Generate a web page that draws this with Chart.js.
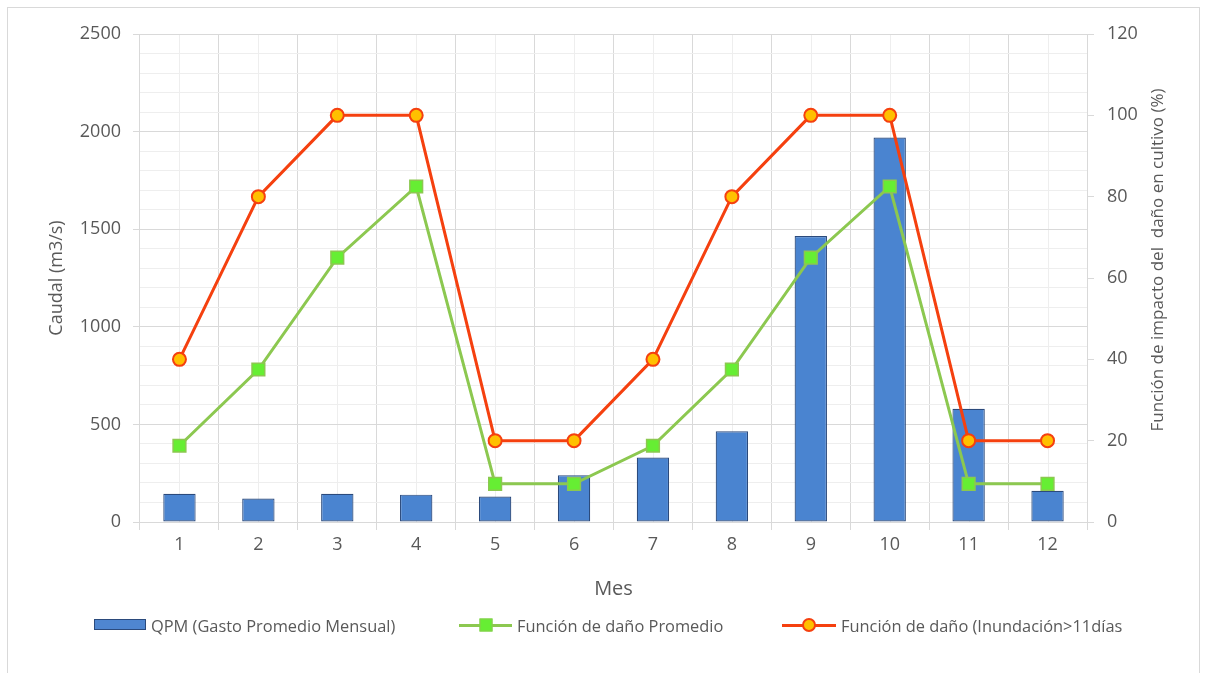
<!DOCTYPE html>
<html>
<head>
<meta charset="utf-8">
<script src="https://cdn.jsdelivr.net/npm/chart.js@4.4.0/dist/chart.umd.min.js"></script>
<style>
html,body{margin:0;padding:0;background:#fff;}
#wrap{position:relative;width:1208px;height:673px;overflow:hidden;background:#fff;}
#frame{position:absolute;left:7px;top:7px;width:1193px;height:700px;border:1.5px solid #d9d9d9;box-sizing:border-box;}
#c{position:absolute;left:0;top:0;}
.item{position:absolute;top:614px;height:22px;display:flex;align-items:center;white-space:nowrap;font-family:'Open Sans',sans-serif;font-size:16.4px;color:#595959;}
.sw{position:relative;height:22px;margin-right:5px;}
.barsw{position:absolute;left:0;right:0;top:5px;height:11px;box-sizing:border-box;border:1px solid #2b4a7c;background:#4f86d0;}
.linesw{position:absolute;left:0;right:0;top:9.5px;height:3px;}
.mk{position:absolute;left:50%;top:50%;transform:translate(-50%,-50%);box-sizing:border-box;}
</style>
</head>
<body>
<div id="wrap">
  <div id="frame"></div>
  <canvas id="c" width="1208" height="673"></canvas>
  <div id="legend"></div>
</div>
<script>
// ---- data ----
const months = ['1','2','3','4','5','6','7','8','9','10','11','12'];
const qpm = [145, 120, 145, 140, 130, 240, 330, 465, 1465, 1970, 580, 160];
const danoPromedio = [18.75, 37.5, 65, 82.5, 9.4, 9.4, 18.75, 37.5, 65, 82.5, 9.4, 9.4];
const danoInundacion = [40, 80, 100, 100, 20, 20, 40, 80, 100, 100, 20, 20];
const seriesNames = ['QPM (Gasto Promedio Mensual)', 'Función de daño Promedio', 'Función de daño (Inundación>11días'];
const leftAxisRange = [0, 2500];
const rightAxisRange = [0, 120];
const leftTitle = 'Caudal (m3/s)';
const rightTitle = 'Función de impacto del  daño en cultivo (%)';
const xTitle = 'Mes';

// ---- styles ----
const TXT = '#595959';
const GRID = '#d9d9d9';
const MINOR = '#eeeeee';
Chart.defaults.font.family = "'Open Sans', sans-serif";
Chart.defaults.color = TXT;

const minorX = {
  id: 'minorX',
  beforeDraw(chart) {
    const {ctx, chartArea, scales} = chart;
    ctx.save();
    ctx.strokeStyle = MINOR;
    ctx.lineWidth = 1;
    months.forEach((m, i) => {
      const x = Math.round(scales.x.getPixelForValue(i)) + 0.5;
      ctx.beginPath();
      ctx.moveTo(x, chartArea.top);
      ctx.lineTo(x, chartArea.bottom);
      ctx.stroke();
    });
    ctx.restore();
  },
  afterDraw(chart) {
    const {ctx, chartArea} = chart;
    ctx.save();
    ctx.fillStyle = TXT;
    ctx.font = "17px 'Open Sans', sans-serif";
    ctx.textAlign = 'center';
    ctx.textBaseline = 'middle';
    ctx.translate(chartArea.right + 71, (chartArea.top + chartArea.bottom) / 2 - 18);
    ctx.rotate(-Math.PI / 2);
    ctx.fillText(rightTitle, 0, 0);
    ctx.restore();
  }
};

const chart = new Chart(document.getElementById('c'), {
  type: 'bar',
  data: {
    labels: months,
    datasets: [
      {
        type: 'line', label: seriesNames[2], data: danoInundacion, yAxisID: 'y1', order: 1,
        borderColor: '#f5400f', borderWidth: 3, tension: 0,
        pointStyle: 'circle', pointRadius: 6.5, pointBorderWidth: 2,
        pointBackgroundColor: '#ffc000', pointBorderColor: '#f5400f'
      },
      {
        type: 'line', label: seriesNames[1], data: danoPromedio, yAxisID: 'y1', order: 2,
        borderColor: '#8cc850', borderWidth: 3, tension: 0,
        pointStyle: 'rect', pointRadius: 9, pointBorderWidth: 1.5,
        pointBackgroundColor: '#66ee33', pointBorderColor: '#8cc850'
      },
      {
        type: 'bar', label: seriesNames[0], data: qpm, yAxisID: 'y', order: 3,
        backgroundColor: '#4a84d0', borderColor: '#2b4a7c', borderWidth: 1.2, borderSkipped: false,
        barPercentage: 0.41, categoryPercentage: 1
      }
    ]
  },
  options: {
    responsive: false,
    animation: false,
    events: [],
    layout: { padding: { left: 40, right: 20, top: 34, bottom: 69 } },
    plugins: { legend: { display: false }, tooltip: { enabled: false } },
    scales: {
      x: {
        type: 'category', offset: true,
        grid: { offset: true, color: GRID, tickLength: 8, tickColor: GRID, lineWidth: 1 },
        border: { display: false },
        ticks: { font: { size: 18 }, color: TXT, padding: 4, maxRotation: 0 },
        title: { display: true, text: xTitle, font: { size: 20 }, color: TXT, padding: { top: 0, bottom: 3 } },
        afterFit: s => { s.height = 82; }
      },
      y: {
        position: 'left', min: leftAxisRange[0], max: leftAxisRange[1],
        ticks: {
          stepSize: 100, autoSkip: false, font: { size: 18 }, color: TXT, padding: 12,
          callback: v => (v % 500 === 0 ? v : '')
        },
        grid: {
          color: c => (c.tick && c.tick.value % 500 === 0 ? GRID : MINOR),
          tickColor: c => (c.tick && c.tick.value % 500 === 0 ? GRID : 'rgba(0,0,0,0)'),
          tickLength: 7
        },
        border: { display: false },
        title: { display: true, text: leftTitle, font: { size: 18 }, color: TXT, padding: { top: 6, bottom: 0 } },
        afterFit: s => { s.width = 100; }
      },
      y1: {
        position: 'right', min: rightAxisRange[0], max: rightAxisRange[1],
        ticks: { stepSize: 20, font: { size: 18 }, color: TXT, padding: 13 },
        grid: { drawOnChartArea: false, tickLength: 7, tickColor: GRID },
        border: { display: false },
        afterFit: s => { s.width = 101; }
      }
    }
  },
  plugins: [minorX]
});

// ---- HTML legend built from datasets ----
const legend = document.getElementById('legend');
const legendLefts = [94, 459, 782];
const legendSwW = [52, 53, 54];
const order = [2, 1, 0];
order.forEach((di, k) => {
  const ds = chart.data.datasets[di];
  const item = document.createElement('div');
  item.className = 'item';
  item.style.left = legendLefts[k] + 'px';
  const sw = document.createElement('div');
  sw.className = 'sw';
  sw.style.width = legendSwW[k] + 'px';
  if (ds.type === 'bar') {
    const b = document.createElement('div'); b.className = 'barsw'; sw.appendChild(b);
  } else {
    const l = document.createElement('div'); l.className = 'linesw'; l.style.background = ds.borderColor; sw.appendChild(l);
    const m = document.createElement('div'); m.className = 'mk';
    m.style.background = ds.pointBackgroundColor;
    if (ds.pointStyle === 'circle') {
      m.style.width = '14px'; m.style.height = '14px'; m.style.borderRadius = '50%';
      m.style.border = '2px solid ' + ds.pointBorderColor;
    } else {
      m.style.width = '13px'; m.style.height = '13px';
      m.style.border = '1.5px solid ' + ds.pointBorderColor;
    }
    sw.appendChild(m);
  }
  item.appendChild(sw);
  const t = document.createElement('span'); t.textContent = ds.label; item.appendChild(t);
  legend.appendChild(item);
});
</script>
</body>
</html>
